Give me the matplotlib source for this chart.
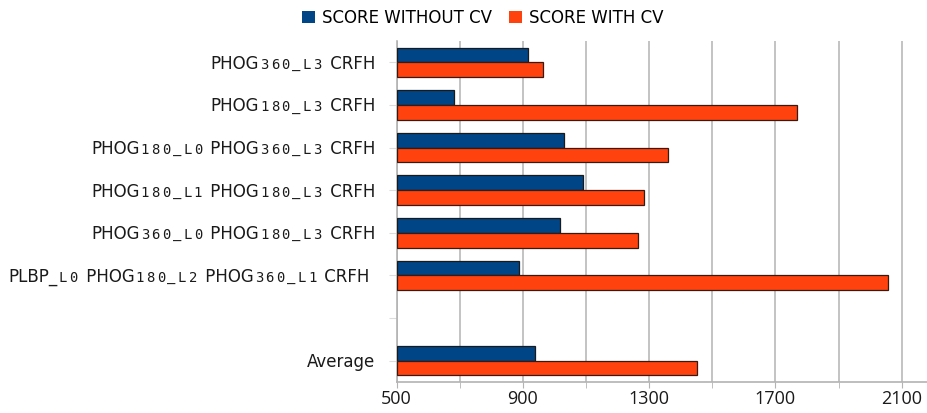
import matplotlib
matplotlib.use("Agg")
import matplotlib.pyplot as plt
import matplotlib.transforms as mtransforms
import numpy as np
from matplotlib.patches import Patch

# "|" switches between normal text and the small spaced-out part
categories = [
    "PHOG|360_L3| CRFH",
    "PHOG|180_L3| CRFH",
    "PHOG|180_L0| PHOG|360_L3| CRFH",
    "PHOG|180_L1| PHOG|180_L3| CRFH",
    "PHOG|360_L0| PHOG|180_L3| CRFH",
    "PLBP_|L0| PHOG|180_L2| PHOG|360_L1| CRFH ",
    "",
    "Average",
]
score_without_cv = [917, 683, 1030, 1091, 1018, 888, np.nan, 938]
score_with_cv = [963, 1769, 1361, 1283, 1264, 2058, np.nan, 1453]
series_names = ["SCORE WITHOUT CV", "SCORE WITH CV"]

x_major = [500, 900, 1300, 1700, 2100]
x_minor = [700, 1100, 1500, 1900]

blue = "#004586"
orange = "#ff420e"
grid_c = "#b3b3b3"
base = 500

W, H = 927, 413
fig = plt.figure(figsize=(W / 100, H / 100), dpi=100)
ax = fig.add_axes([396.5 / W, (H - 382) / H, (W - 396.5) / W, (382 - 41) / H])

y = np.arange(len(categories))
bh = 0.346
wo = np.array(score_without_cv, dtype=float)
wi = np.array(score_with_cv, dtype=float)
ok = ~np.isnan(wo)
ax.barh(y[ok] - bh / 2, wo[ok] - base, left=base, height=bh, color=blue,
        edgecolor="#1a1a1a", linewidth=0.9, zorder=3)
ax.barh(y[ok] + bh / 2, wi[ok] - base, left=base, height=bh, color=orange,
        edgecolor="#3a1a10", linewidth=0.9, zorder=3)

ax.set_xlim(500, 2180)
ax.set_ylim(len(categories) - 0.5, -0.5)
ax.set_xticks(x_major)
ax.set_xticks(x_minor, minor=True)
ax.grid(True, axis="x", which="both", color=grid_c, linewidth=1.1, zorder=0)
ax.tick_params(axis="x", which="both", length=4, color=grid_c, pad=2)
for lb in ax.get_xticklabels():
    lb.set_fontfamily("Open Sans")
    lb.set_fontsize(13)
    lb.set_color("#1a1a1a")
ax.set_yticks(y)
ax.set_yticklabels([])
ax.tick_params(axis="y", length=6, color="#dddddd")
for s in ["top", "right"]:
    ax.spines[s].set_visible(False)
for s in ["left", "bottom"]:
    ax.spines[s].set_color(grid_c)
    ax.spines[s].set_linewidth(1.2)

# y labels drawn piece by piece (small mono chars on the same baseline)
renderer = fig.canvas.get_renderer()
big = dict(fontsize=12, family="DejaVu Sans", color="#1a1a1a")
small = dict(fontsize=10, family="DejaVu Sans Mono", color="#1a1a1a")
small_adv = 10.6  # px per small char
small_tail = 2.0  # extra room after a small block
gap = 21.5
base_off = -6.5
ytrans = mtransforms.blended_transform_factory(ax.transAxes, ax.transData)


def text_width(s):
    t1 = fig.text(0, 0, "|" + s + "|", **big)
    t2 = fig.text(0, 0, "||", **big)
    w = t1.get_window_extent(renderer).width - t2.get_window_extent(renderer).width
    t1.remove()
    t2.remove()
    return w


for yi, cat in zip(y, categories):
    if not cat:
        continue
    parts = cat.split("|")
    widths = []
    for i, p in enumerate(parts):
        if i % 2 == 0:
            widths.append(text_width(p))
        else:
            widths.append(len(p) * small_adv + small_tail)
    cursor = -gap - sum(widths)
    for i, p in enumerate(parts):
        if i % 2 == 0:
            tr = mtransforms.offset_copy(ytrans, fig, x=cursor, y=base_off,
                                         units="dots")
            ax.text(0, yi, p, transform=tr, ha="left", va="baseline",
                    clip_on=False, **big)
        else:
            for k, ch in enumerate(p):
                tr = mtransforms.offset_copy(
                    ytrans, fig, x=cursor + (k + 0.5) * small_adv, y=base_off,
                    units="dots")
                ax.text(0, yi, ch, transform=tr, ha="center", va="baseline",
                        clip_on=False, **small)
        cursor += widths[i]

handles = [Patch(facecolor=blue, edgecolor="none"),
           Patch(facecolor=orange, edgecolor="none")]
fig.legend(handles, series_names, loc="upper center",
           bbox_to_anchor=(0.521, 1.015), ncol=2, frameon=False, fontsize=12,
           handlelength=0.75, handleheight=0.75, handletextpad=0.45,
           columnspacing=1.0)

plt.savefig("out.png", dpi=100)
